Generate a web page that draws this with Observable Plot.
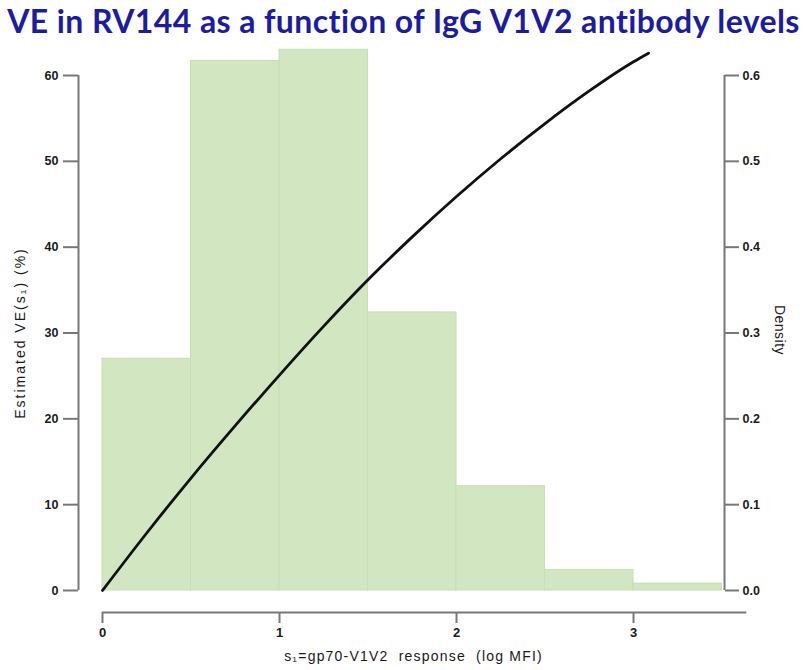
<!DOCTYPE html>
<html>
<head>
<meta charset="utf-8">
<script src="https://cdn.jsdelivr.net/npm/d3@7"></script>
<script src="https://cdn.jsdelivr.net/npm/@observablehq/plot@0.6"></script>
<style>
  html, body { margin: 0; padding: 0; background: #fff; }
  #title { height: 46px; box-sizing: border-box; padding-top: 1px; padding-left: 0px; text-align: center;
    font-family: Lato, "Open Sans", sans-serif; font-weight: bold; font-size: 32px; letter-spacing: 0.4px;
    color: #1c1ca0; white-space: nowrap; line-height: 40px; }
  svg text { white-space: pre; }
</style>
</head>
<body>
<div id="title">VE in RV144 as a function of IgG V1V2 antibody levels</div>
<div id="chart"></div>
<script>
// Histogram of s1 (bin edges, density)
const binEdges = [0, 0.5, 1, 1.5, 2, 2.5, 3, 3.5];
const density = [0.270, 0.617, 0.630, 0.324, 0.1215, 0.024, 0.008];
// Estimated VE curve (%)
const curveX = [0, 0.25, 0.5, 0.75, 1, 1.25, 1.5, 1.75, 2, 2.25, 2.5, 2.75, 3, 3.085];
const curveVE = [0, 6.7, 13.1, 19.2, 25.1, 30.8, 36.2, 41.2, 45.9, 50.3, 54.4, 58.2, 61.6, 62.6];
// Tick labels
const xTicks = [0, 1, 2, 3];
const xTickLabels = ["0", "1", "2", "3"];
const leftTicks = [0, 10, 20, 30, 40, 50, 60];
const rightTickLabels = ["0.0", "0.1", "0.2", "0.3", "0.4", "0.5", "0.6"];
const xLabel = "s\u2081=gp70-V1V2  response  (log MFI)";
const yLabel = "Estimated VE(s\u2081) (%)";
const y2Label = "Density";

const bins = density.map((d, i) => ({x1: binEdges[i], x2: binEdges[i + 1], y: d * 100}));
const curve = curveX.map((x, i) => ({x, y: curveVE[i]}));

const axisColor = "#787878";
const textColor = "#1a1a1a";

const chart = Plot.plot({
  width: 807,
  height: 624,
  marginLeft: 102,
  marginRight: 83,
  marginTop: 29,
  marginBottom: 80,
  style: {fontFamily: "'Liberation Sans', Arial, sans-serif", fontSize: "12px", fontWeight: "bold", background: "#fff"},
  x: {domain: [0, 3.514]},
  y: {domain: [0, 60]},
  marks: [
    Plot.rectY(bins, {x1: "x1", x2: "x2", y: "y", fill: "#d1e6c1", stroke: "#c6dfb3", strokeWidth: 1}),
    Plot.line(curve, {x: "x", y: "y", stroke: "#111", strokeWidth: 2.8, curve: "monotone-x"}),
    // left axis
    Plot.ruleX([0], {y1: 0, y2: 60, dx: -24, stroke: axisColor, strokeWidth: 2}),
    Plot.axisY({anchor: "left", ticks: leftTicks, tickSize: 15, tickPadding: 5, dx: -24, stroke: axisColor, strokeWidth: 2, fill: textColor, fontSize: 12.5, label: null}),
    // right axis
    Plot.ruleX([3.514], {y1: 0, y2: 60, stroke: axisColor, strokeWidth: 2}),
    Plot.axisY({anchor: "right", ticks: leftTicks, tickFormat: d => rightTickLabels[leftTicks.indexOf(d)], tickSize: 14, tickPadding: 4, stroke: axisColor, strokeWidth: 2, fill: textColor, fontSize: 12.5, label: null}),
    // bottom axis
    Plot.ruleY([0], {x1: 0, x2: 3.64, dy: 22, stroke: axisColor, strokeWidth: 2}),
    Plot.axisX({anchor: "bottom", ticks: xTicks, tickFormat: d => xTickLabels[xTicks.indexOf(d)], tickSize: 11, tickPadding: 4, dy: 22, stroke: axisColor, strokeWidth: 2, fill: textColor, fontSize: 13, label: null}),
    // axis titles
    Plot.text([yLabel], {frameAnchor: "left", textAnchor: "middle", dx: -82, rotate: -90, fontSize: 14, fontWeight: "normal", fill: textColor}),
    Plot.text([y2Label], {frameAnchor: "right", textAnchor: "middle", dx: 55, dy: -3, rotate: 90, fontSize: 14, fontWeight: "normal", fill: textColor}),
    Plot.text([xLabel], {frameAnchor: "bottom", dy: 70, fontSize: 14, fontWeight: "normal", fill: textColor})
  ]
});
// widen the axis titles' letter spacing to match the reference
const spacing = new Map([[yLabel, "2px"], [xLabel, "1.2px"], [y2Label, "0.5px"]]);
d3.select(chart).selectAll("text").each(function() {
  const s = spacing.get(this.textContent);
  if (s) this.style.letterSpacing = s;
});
document.getElementById("chart").appendChild(chart);
</script>
</body>
</html>
